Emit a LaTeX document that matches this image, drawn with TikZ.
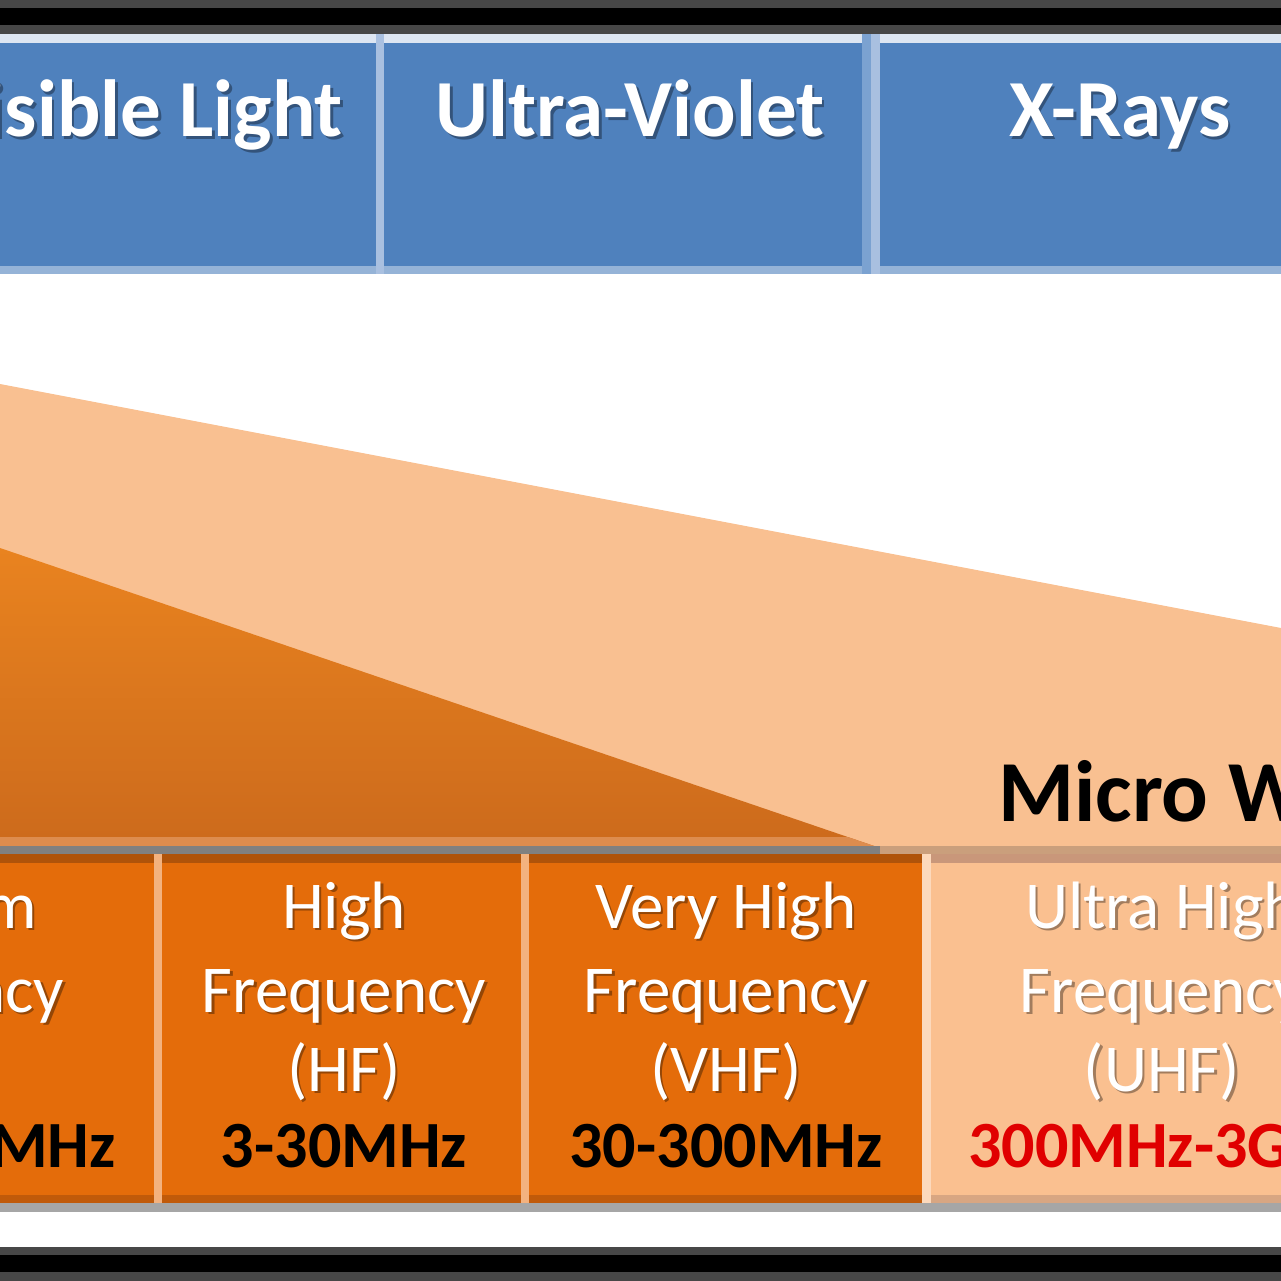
\documentclass[tikz,border=0pt]{standalone}
\usepackage{fontspec}
\setmainfont{Carlito}
\definecolor{dkgray}{HTML}{474747}
\definecolor{topstrip}{HTML}{DDE6F2}
\definecolor{spblue}{HTML}{4F81BD}
\definecolor{spbluebot}{HTML}{95B3D7}
\definecolor{spdiv}{HTML}{A9C0E0}
\definecolor{spdivb}{HTML}{7BA2D1}
\definecolor{peach}{HTML}{F9C091}
\definecolor{trtop}{HTML}{E9831F}
\definecolor{trbot}{HTML}{CC6A1C}
\definecolor{trstrip}{HTML}{DD8C4E}
\definecolor{spgray}{HTML}{808080}
\definecolor{tanstrip}{HTML}{CA9F7C}
\definecolor{orstrip}{HTML}{AF530A}
\definecolor{sporange}{HTML}{E46C0A}
\definecolor{uhffill}{HTML}{FAC090}
\definecolor{uhfstrip}{HTML}{C9977A}
\definecolor{orstripb}{HTML}{C05A0A}
\definecolor{uhfstripb}{HTML}{D8A682}
\definecolor{graybot}{HTML}{A6A6A6}
\definecolor{ordiv}{HTML}{F3B27F}
\definecolor{uhfdiv}{HTML}{FCD9BC}
\definecolor{rangered}{HTML}{E00000}
\newcommand{\lblsh}[5]{%
  \node[#4, text=black, text opacity=0.35] (#1s) at ([shift={(2.5,2.5)}]#2,#3) {#5};
  \node[#4] (#1) at (#2,#3) {#5};}
\tikzset{
  toplbl/.style={anchor=base, inner sep=0pt, text=white, font=\bfseries\fontsize{81}{81}\selectfont},
  botlbl/.style={anchor=base, inner sep=0pt, text=white, font=\fontsize{67}{67}\selectfont},
  rangelbl/.style={anchor=base, inner sep=0pt, text=black, font=\bfseries\fontsize{66}{66}\selectfont},
  microlbl/.style={anchor=base west, inner sep=0pt, text=black, font=\bfseries\fontsize{87}{87}\selectfont}
}
\begin{document}
\begin{tikzpicture}[x=1pt,y=-1pt]
\useasboundingbox (0,0) rectangle (1281,1281);
\clip (0,0) rectangle (1281,1281);
\fill[white] (0,0) rectangle (1281,1281);
% top frame
\fill[dkgray] (0,0) rectangle (1281,34);
\fill[black] (0,8.5) rectangle (1281,25);
% top band
\fill[topstrip] (0,34) rectangle (1281,43);
\fill[spblue] (0,43) rectangle (1281,266);
\fill[spbluebot] (0,266) rectangle (1281,274);
\fill[spdiv] (376,34) rectangle (384,274);
\fill[spdivb] (862,34) rectangle (871,274);
\fill[spdiv] (871,34) rectangle (880,274);
% wedges
\fill[peach] (0,384) -- (1281,628) -- (1281,846) -- (0,846) -- cycle;
\shade[top color=trtop, bottom color=trbot] (0,548) -- (880,848) -- (0,848) -- cycle;
\begin{scope}
\clip (0,548) -- (880,848) -- (0,848) -- cycle;
\fill[trstrip] (0,837) rectangle (900,846);
\end{scope}
% table
\fill[spgray] (0,846) rectangle (880,854);
\fill[tanstrip] (880,846) rectangle (1281,854);
\fill[orstrip] (0,854) rectangle (922,863);
\fill[uhfstrip] (922,854) rectangle (1281,863);
\fill[sporange] (0,863) rectangle (922,1195);
\fill[uhffill] (922,863) rectangle (1281,1195);
\fill[orstripb] (0,1195) rectangle (922,1203);
\fill[uhfstripb] (922,1195) rectangle (1281,1203);
\fill[graybot] (0,1203) rectangle (1281,1212);
\fill[ordiv] (154,854) rectangle (162,1203);
\fill[ordiv] (521,854) rectangle (529,1203);
\fill[uhfdiv] (922,854) rectangle (931,1203);
% bottom frame
\fill[dkgray] (0,1247) rectangle (1281,1281);
\fill[black] (0,1255) rectangle (1281,1272);
% top labels
\lblsh{vis}{140}{137}{toplbl}{Visible Light}
\lblsh{uv}{630}{137}{toplbl}{Ultra-Violet}
\lblsh{xr}{1120}{137}{toplbl}{X-Rays}
% micro waves
\node[microlbl] (micro) at (998,821) {Micro Waves};
% MF
\lblsh{mfa}{-78}{928}{botlbl}{Medium}
\lblsh{mfb}{-78}{1012}{botlbl}{Frequency}
\lblsh{mfc}{-78}{1091}{botlbl}{(MF)}
\node[rangelbl] (mfr) at (-74,1167) {300kHz-3MHz};
% HF
\lblsh{hfa}{344}{928}{botlbl}{High}
\lblsh{hfb}{344}{1012}{botlbl}{Frequency}
\lblsh{hfc}{344}{1091}{botlbl}{(HF)}
\node[rangelbl] (hfr) at (344,1167) {3-30MHz};
% VHF
\lblsh{vhfa}{726}{928}{botlbl}{Very High}
\lblsh{vhfb}{726}{1012}{botlbl}{Frequency}
\lblsh{vhfc}{726}{1091}{botlbl}{(VHF)}
\node[rangelbl] (vhfr) at (726,1167) {30-300MHz};
% UHF
\lblsh{uhfa}{1162}{928}{botlbl}{Ultra High}
\lblsh{uhfb}{1162}{1012}{botlbl}{Frequency}
\lblsh{uhfc}{1162}{1091}{botlbl}{(UHF)}
\node[rangelbl, text=rangered] (uhfr) at (1163,1167) {300MHz-3GHz};
\end{tikzpicture}
\end{document}
